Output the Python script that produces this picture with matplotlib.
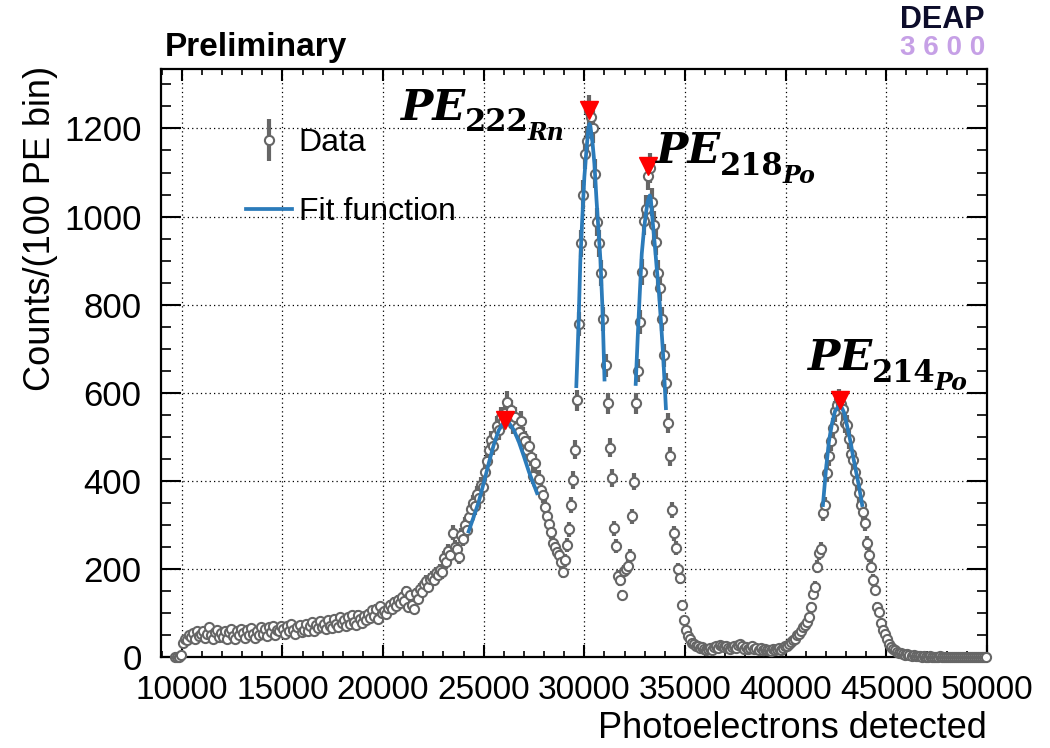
import numpy as np
import matplotlib
matplotlib.use("Agg")
import matplotlib.pyplot as plt
from matplotlib.container import ErrorbarContainer
from matplotlib.legend_handler import HandlerErrorbar
from matplotlib.ticker import MultipleLocator
from matplotlib.transforms import offset_copy

plt.rcParams['font.family'] = ['Liberation Sans', 'DejaVu Sans']

# ---------------- data (100 PE bins, bin centres from 9650 PE) ----------------
first_bin_center = 9650
bin_width = 100
counts = [
    0, 0, 1, 4,
    32, 42, 38, 50, 45, 55, 40, 58, 47, 52,          # 10000
    60, 44, 53, 68, 50, 41, 57, 62, 45, 55,          # 11000
    46, 60, 42, 57, 64, 48, 40, 59, 50, 63,          # 12000
    55, 44, 61, 50, 66, 52, 43, 60, 49, 67,          # 13000
    52, 63, 48, 67, 56, 70, 50, 62, 58, 71,          # 14000
    64, 52, 70, 58, 74, 61, 53, 68, 72, 57,          # 15000
    62, 76, 58, 70, 80, 60, 73, 65, 82, 68,          # 16000
    74, 63, 84, 70, 66, 87, 75, 69, 90, 77,          # 17000
    83, 70, 90, 76, 95, 80, 72, 96, 86, 78,          # 18000
    92, 84, 98, 88, 106, 94, 110, 86, 115, 100,      # 19000
    105, 98, 112, 118, 108, 125, 115, 130, 122, 136, # 20000
    128, 150, 113, 140, 118, 110, 145, 132, 155, 148,# 21000
    165, 172, 160, 178, 182, 175, 190, 186, 197, 192,# 22000
    225, 215, 240, 232, 282, 250, 245, 227, 276, 268,# 23000
    300, 288, 318, 337, 350, 342, 370, 362, 390, 385,# 24000
    420, 445, 470, 492, 480, 505, 525, 515, 545, 535,# 25000
    555, 579, 548, 560, 530, 545, 522, 510, 535, 500,# 26000
    490, 470, 480, 455, 412, 440, 395, 405, 380, 368,# 27000
    340, 320, 303, 284, 258, 250, 238, 231, 215, 193,# 28000
    220, 254, 290, 345, 402, 471, 583, 756, 939, 1050,   # 29000
    1142, 1172, 1240, 1225, 1201, 1097, 988, 939, 872, 767, # 30000
    662, 576, 475, 406, 292, 251, 183, 175, 141, 195,  # 31000
    200, 206, 230, 319, 398, 576, 650, 760, 875, 990,  # 32000
    1018, 1093, 1110, 1033, 981, 943, 872, 838, 767, 685, # 33000
    621, 531, 456, 334, 281, 247, 200, 179, 119, 85,   # 34000
    62, 47, 40, 32, 30, 24, 26, 20, 22, 18,          # 35000
    16, 18, 20, 17, 22, 24, 20, 28, 25, 22,          # 36000
    24, 20, 18, 22, 26, 21, 28, 30, 24, 19,          # 37000
    22, 18, 20, 24, 19, 21, 17, 20, 16, 18,          # 38000
    15, 17, 14, 19, 16, 18, 20, 17, 21, 24,          # 39000
    26, 30, 34, 38, 41, 49, 53, 60, 68, 72,          # 40000
    79, 90, 114, 144, 159, 205, 235, 245, 326, 345,  # 41000
    418, 456, 490, 520, 558, 573, 585, 575, 562, 532,# 42000
    527, 495, 462, 447, 420, 399, 372, 345, 330, 304,# 43000
    258, 232, 205, 175, 152, 114, 103, 77, 62, 53,   # 44000
    41, 30, 22, 18, 15, 12, 9, 8, 6, 5,              # 45000
    6, 4, 3, 4, 2, 3, 2, 1, 2, 1,                    # 46000
    1, 2, 0, 1, 1, 0, 2, 1, 0, 1,                    # 47000
    0, 1, 1, 0, 0, 1, 0, 0, 1, 0,                    # 48000
    0, 0, 1, 0, 0, 0, 1, 0, 0, 0,                    # 49000
]

# fit function curves
fit1_x = [24250, 24500, 24750, 25000, 25250, 25500, 25750, 26000, 26100, 26250,
          26500, 26750, 27000, 27250, 27500, 27650]
fit1_y = [285, 318, 352, 395, 440, 482, 515, 533, 535, 532, 515, 488, 455, 420, 390, 372]
fit2_x = [29600, 29700, 29800, 29900, 30000, 30100, 30200, 30250, 30300, 30400,
          30500, 30600, 30700, 30800, 30900, 31000]
fit2_y = [615, 740, 900, 1000, 1090, 1150, 1200, 1210, 1205, 1170, 1120, 1040, 970, 900, 790, 630]
fit3_x = [32550, 32650, 32750, 32850, 32950, 33050, 33150, 33250, 33300, 33400,
          33500, 33600, 33700, 33800, 33900, 34000, 34050]
fit3_y = [620, 726, 823, 915, 965, 1005, 1035, 1048, 1040, 985, 935, 880, 830, 765, 695, 610, 565]
fit4_x = [41850, 42000, 42150, 42300, 42450, 42600, 42750, 42900, 43050, 43200,
          43350, 43500, 43650, 43800]
fit4_y = [345, 425, 490, 530, 558, 568, 570, 555, 525, 493, 455, 420, 385, 345]

# peak markers and their labels (PE_{mass_{element}})
peak_x = [26070, 30240, 33160, 42710]
peak_y = [538, 1242, 1115, 583]
label_mass = ['222', '218', '214']
label_elem = ['Rn', 'Po', 'Po']
label_x = [20850, 33510, 41070]
label_y = [1220, 1121, 651]

x_ticks = [10000, 15000, 20000, 25000, 30000, 35000, 40000, 45000, 50000]
y_ticks = [0, 200, 400, 600, 800, 1000, 1200]

# ---------------- figure ----------------
W, H = 1050, 748
fig = plt.figure(figsize=(W / 100, H / 100), dpi=100)
ax = fig.add_axes([161 / W, 1 - 657 / H, (987 - 161) / W, (657 - 69) / H])

counts = np.array(counts, dtype=float)
pe = first_bin_center + bin_width * np.arange(len(counts))
errs = np.sqrt(counts)

gray = '#666666'
blue = '#2b7bba'

eb = ax.errorbar(pe, counts, yerr=errs, fmt='o', color=gray, ecolor=gray,
                 mfc='white', mec=gray, ms=6.6, mew=1.5, elinewidth=3.0,
                 capsize=0, zorder=3, label='Data')
eb[0].set_clip_on(False)
for coll in eb[2]:
    coll.set_clip_on(False)

fit_lines = []
for fx, fy in [(fit1_x, fit1_y), (fit2_x, fit2_y), (fit3_x, fit3_y), (fit4_x, fit4_y)]:
    ln, = ax.plot(fx, fy, color=blue, lw=2.7, zorder=4)
    fit_lines.append(ln)

ax.plot(peak_x, peak_y, linestyle='none', marker='v', color='#ff0000',
        ms=13, mec='#ff0000', zorder=5)

ax.set_xlim(8970, 50000)
ax.set_ylim(0, 1335)
ax.set_xticks(x_ticks)
ax.set_yticks(y_ticks)
ax.set_xticklabels([str(t) for t in x_ticks])
ax.set_yticklabels([str(t) for t in y_ticks])
ax.xaxis.set_minor_locator(MultipleLocator(1000))
ax.yaxis.set_minor_locator(MultipleLocator(50))

ax.grid(True, which='major', color='black', linestyle=(0, (1, 2.5)), lw=0.9)
ax.set_axisbelow(True)

ax.tick_params(which='both', direction='in', top=True, right=True, width=1.5, color='black')
ax.tick_params(axis='x', which='major', length=8.6, labelsize=24, pad=13)
ax.tick_params(axis='x', which='minor', length=4.3, width=1.2)
ax.tick_params(axis='y', which='major', length=14.4, labelsize=25, pad=14)
ax.tick_params(axis='y', which='minor', length=7.2, width=1.2)
for sp in ax.spines.values():
    sp.set_linewidth(1.6)

ax.set_xlabel('Photoelectrons detected', fontsize=26, loc='right')
ax.xaxis.set_label_coords(1.0, -0.092)
ax.set_ylabel('Counts/(100 PE bin)', fontsize=26, loc='top')
ax.yaxis.set_label_coords(-0.125, 1.005)

leg = ax.legend([eb, fit_lines[0]], ['Data', 'Fit function'], loc='upper left',
                bbox_to_anchor=(246 / W, 1 - 128 / H), bbox_transform=fig.transFigure,
                frameon=False, fontsize=23, numpoints=1, handlelength=1.45,
                handletextpad=0.2, labelspacing=1.23, borderpad=0, borderaxespad=0,
                handler_map={ErrorbarContainer: HandlerErrorbar(yerr_size=0.66)})

# peak labels: PE (bold italic) + mass number subscript + element sub-subscript
renderer = fig.canvas.get_renderer()
serif = 'DejaVu Serif'
for lx, ly, mass, elem in zip(label_x, label_y, label_mass, label_elem):
    t1 = ax.text(lx, ly, 'PE', fontsize=31, family=serif, style='italic',
                 weight='bold', ha='left', va='baseline', zorder=6)
    w1 = t1.get_window_extent(renderer).width
    t2 = ax.text(lx, ly, mass, fontsize=22, family=serif, weight='bold',
                 ha='left', va='baseline', zorder=6,
                 transform=offset_copy(ax.transData, fig=fig, x=w1, y=-11.5, units='dots'))
    w2 = t2.get_window_extent(renderer).width
    ax.text(lx, ly, elem, fontsize=17, family=serif, style='italic', weight='bold',
            ha='left', va='baseline', zorder=6,
            transform=offset_copy(ax.transData, fig=fig, x=w1 + w2 - 1, y=-20, units='dots'))

fig.text(165 / W, 1 - 56 / H, 'Preliminary', fontsize=24, fontweight='bold',
         ha='left', va='baseline')
fig.text(985 / W, 1 - 28 / H, 'DEAP', fontsize=22, fontweight='bold', color='#0d0d2b',
         ha='right', va='baseline')
fig.text(985 / W, 1 - 55 / H, '3 6 0 0', fontsize=20, fontweight='bold', color='#c6a0e6',
         ha='right', va='baseline')

fig.savefig('out.png', dpi=100)
